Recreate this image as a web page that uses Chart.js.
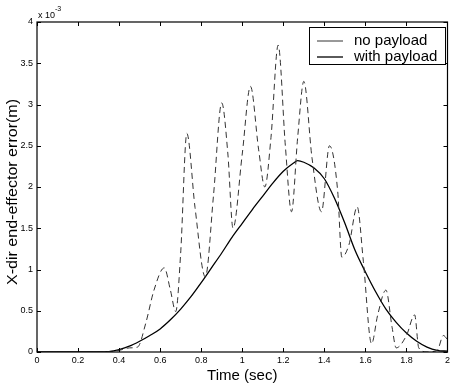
<!DOCTYPE html>
<html>
<head>
<meta charset="utf-8">
<script src="https://cdn.jsdelivr.net/npm/chart.js@4/dist/chart.umd.min.js"></script>
<style>
  html, body { margin:0; padding:0; background:#fff; }
  #wrap { width:453px; height:385px; position:relative; }
</style>
</head>
<body>
<div id="wrap"><canvas id="grafico"></canvas></div>
<script>
// Erro de posição do efetuador (x 10^-3 m) — com e sem carga

const tSemCarga = [0, 0.1, 0.2, 0.3, 0.4, 0.45, 0.49, 0.53, 0.57, 0.62, 0.65, 0.676, 0.70, 0.73, 0.77, 0.82,
  0.86, 0.90, 0.93, 0.955, 1.0, 1.04, 1.08, 1.11, 1.14, 1.175, 1.21, 1.24, 1.27, 1.30, 1.34, 1.386,
  1.425, 1.465, 1.485, 1.52, 1.56, 1.59, 1.63, 1.66, 1.70, 1.73, 1.75, 1.80, 1.84, 1.86, 1.90, 1.95, 1.98, 2.0];
const erroSemCarga = [0, 0, 0, 0, 0.02, 0.05, 0.06, 0.35, 0.75, 1.02, 0.75, 0.49, 1.2, 2.65, 1.75, 0.91,
  1.9, 3.02, 2.4, 1.5, 2.4, 3.22, 2.45, 2.0, 2.6, 3.72, 2.5, 1.7, 2.6, 3.28, 2.35, 1.7,
  2.5, 1.95, 1.15, 1.3, 1.76, 1.1, 0.1, 0.45, 0.75, 0.3, 0.05, 0.2, 0.45, 0.05, 0.0, 0.02, 0.2, 0.15];

const tComCarga = [0, 0.1, 0.2, 0.3, 0.35, 0.4, 0.45, 0.5, 0.55, 0.6, 0.65, 0.7, 0.75, 0.8, 0.85, 0.9, 0.95,
  1.0, 1.05, 1.1, 1.15, 1.2, 1.25, 1.27, 1.3, 1.35, 1.4, 1.45, 1.5, 1.55, 1.6, 1.65, 1.7, 1.75, 1.8,
  1.85, 1.9, 1.95, 2.0];
const erroComCarga = [0, 0, 0, 0, 0.005, 0.03, 0.07, 0.13, 0.2, 0.28, 0.39, 0.52, 0.67, 0.84, 1.02, 1.2, 1.39,
  1.56, 1.73, 1.89, 2.05, 2.19, 2.29, 2.32, 2.3, 2.23, 2.1, 1.86, 1.56, 1.23, 0.97, 0.73, 0.52, 0.36, 0.23,
  0.13, 0.06, 0.02, 0.01];

const xTickLabels = ['0', '0.2', '0.4', '0.6', '0.8', '1', '1.2', '1.4', '1.6', '1.8', '2'];
const yTickLabels = ['0', '0.5', '1', '1.5', '2', '2.5', '3', '3.5', '4'];
const legendas = ['no payload', 'with payload'];

const fonteTick = { family: "'Liberation Sans', Arial, sans-serif", size: 9 };
const FAMILIA = "'Liberation Sans', Arial, sans-serif";

// moldura, ticks para dentro, legenda e textos extras (estilo MATLAB)
const pluginMoldura = {
  id: 'moldura',
  afterDraw(chart) {
    const { ctx, chartArea: a, scales } = chart;
    ctx.save();
    ctx.strokeStyle = '#000';
    ctx.lineWidth = 1.2;
    ctx.strokeRect(a.left, a.top, a.right - a.left, a.bottom - a.top);

    ctx.lineWidth = 1;
    ctx.beginPath();
    scales.x.ticks.forEach(t => {
      const px = Math.round(scales.x.getPixelForValue(t.value)) + 0.5;
      ctx.moveTo(px, a.bottom); ctx.lineTo(px, a.bottom - 4);
      ctx.moveTo(px, a.top);    ctx.lineTo(px, a.top + 4);
    });
    scales.y.ticks.forEach(t => {
      const py = Math.round(scales.y.getPixelForValue(t.value)) + 0.5;
      ctx.moveTo(a.left, py);  ctx.lineTo(a.left + 4, py);
      ctx.moveTo(a.right, py); ctx.lineTo(a.right - 4, py);
    });
    ctx.stroke();

    // expoente do eixo y
    ctx.fillStyle = '#000';
    ctx.textBaseline = 'alphabetic';
    ctx.textAlign = 'left';
    ctx.font = `9px ${FAMILIA}`;
    ctx.fillText('x 10', a.left + 1, a.top - 4);
    ctx.font = `7px ${FAMILIA}`;
    ctx.fillText('-3', a.left + 18, a.top - 11);

    // título do eixo y
    ctx.save();
    ctx.translate(13, 192);
    ctx.rotate(-Math.PI / 2);
    ctx.scale(1.07, 1);
    ctx.font = `15px ${FAMILIA}`;
    ctx.textAlign = 'center';
    ctx.textBaseline = 'middle';
    ctx.fillText('X-dir end-effector error(m)', 0, 0);
    ctx.restore();

    // legenda
    const lx = 309.5, ly = 27.5, lw = 136, lh = 37;
    ctx.fillStyle = '#fff';
    ctx.fillRect(lx, ly, lw, lh);
    ctx.lineWidth = 1;
    ctx.strokeStyle = '#000';
    ctx.strokeRect(lx, ly, lw, lh);
    const estilos = [
      { y: 41, cor: '#333', w: 1 },
      { y: 57, cor: '#000', w: 1.3 }
    ];
    ctx.font = `15px ${FAMILIA}`;
    ctx.textAlign = 'left';
    ctx.textBaseline = 'middle';
    legendas.forEach((txt, i) => {
      const e = estilos[i];
      ctx.strokeStyle = e.cor;
      ctx.lineWidth = e.w;
      ctx.beginPath();
      ctx.moveTo(317, e.y); ctx.lineTo(343, e.y);
      ctx.stroke();
      ctx.fillStyle = '#000';
      ctx.fillText(txt, 354, e.y);
    });
    ctx.restore();
  }
};

const ctx = document.getElementById('grafico').getContext('2d');
new Chart(ctx, {
  type: 'line',
  data: {
    datasets: [
      {
        label: legendas[0],
        data: tSemCarga.map((t, i) => ({ x: t, y: erroSemCarga[i] })),
        borderColor: '#333', borderWidth: 1, borderDash: [6, 4],
        pointRadius: 0, cubicInterpolationMode: 'monotone', fill: false
      },
      {
        label: legendas[1],
        data: tComCarga.map((t, i) => ({ x: t, y: erroComCarga[i] })),
        borderColor: '#000', borderWidth: 1.3,
        pointRadius: 0, cubicInterpolationMode: 'monotone', fill: false
      }
    ]
  },
  options: {
    responsive: true, maintainAspectRatio: false, animation: false,
    layout: { padding: { top: 22, right: 3, left: 0, bottom: 0 } },
    plugins: { legend: { display: false }, tooltip: { enabled: false } },
    scales: {
      x: {
        type: 'linear', min: 0, max: 2,
        afterFit: s => { s.height = 33; },
        grid: { display: false, drawTicks: false },
        border: { display: false },
        ticks: { stepSize: 0.2, padding: 3, font: fonteTick, color: '#000', maxRotation: 0,
                 callback: (v, i) => xTickLabels[i] },
        title: { display: true, text: 'Time (sec)', color: '#000', padding: 0,
                 font: { family: FAMILIA, size: 15 } }
      },
      y: {
        min: 0, max: 4,
        afterFit: s => { s.width = 37; },
        grid: { display: false, drawTicks: false },
        border: { display: false },
        ticks: { stepSize: 0.5, padding: 4, font: fonteTick, color: '#000',
                 callback: (v, i) => yTickLabels[i] }
      }
    }
  },
  plugins: [pluginMoldura]
});
</script>
</body>
</html>
